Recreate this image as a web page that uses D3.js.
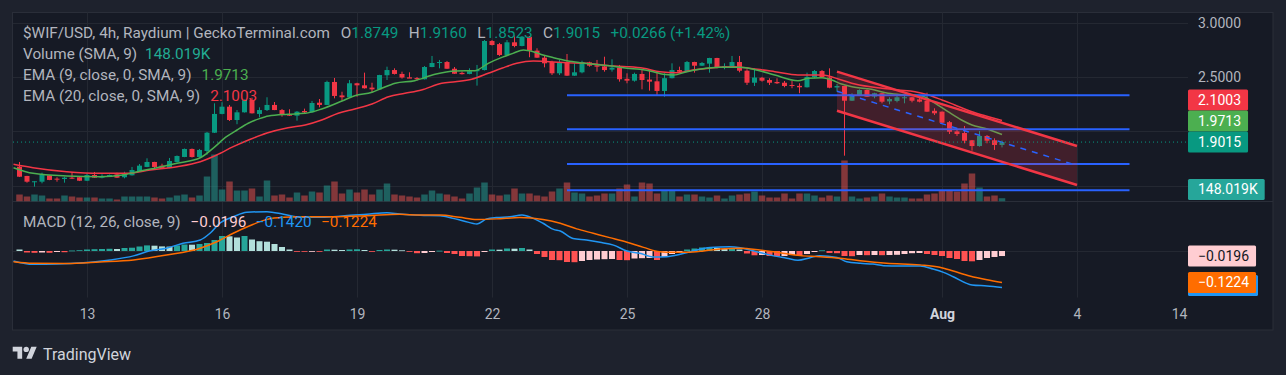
<!DOCTYPE html>
<html><head><meta charset="utf-8">
<script src="https://cdn.jsdelivr.net/npm/d3@7"></script>
<style>
html,body{margin:0;padding:0;background:#1e222d;}
svg{display:block;font-family:Roboto,"Noto Sans",sans-serif;}
</style></head><body>
<svg id="c" width="1286" height="375"></svg>
<script>
// ---------------- DATA ----------------
const title = "$WIF/USD, 4h, Raydium | GeckoTerminal.com";
const tickLabels = ["13","16","19","22","25","28","Aug","4","14"];
const tickIndex  = [9,27,45,63,81,99,123,141,154.6];
const priceTicks = [1.5,2.0,2.5,3.0];
const macdTicks = [0];

const open  = [1.674,1.589,1.533,1.536,1.595,1.564,1.561,1.573,1.577,1.545,
 1.598,1.573,1.582,1.604,1.577,1.595,1.635,1.672,1.718,1.684,
 1.662,1.718,1.764,1.838,1.764,1.819,1.988,2.161,2.228,2.105,
 2.176,2.290,2.161,2.197,2.244,2.197,2.156,2.145,2.188,2.176,
 2.265,2.244,2.456,2.332,2.315,2.444,2.425,2.404,2.388,2.518,
 2.566,2.530,2.499,2.492,2.481,2.594,2.631,2.640,2.578,2.540,
 2.530,2.555,2.566,2.834,2.805,2.705,2.822,2.788,2.874,2.745,
 2.680,2.640,2.536,2.640,2.514,2.545,2.637,2.610,2.600,2.570,
 2.588,2.485,2.468,2.530,2.478,2.462,2.373,2.491,2.566,2.553,
 2.640,2.606,2.625,2.677,2.585,2.600,2.640,2.560,2.449,2.495,
 2.474,2.456,2.449,2.428,2.420,2.407,2.500,2.557,2.497,2.405,
 2.419,2.283,2.336,2.382,2.322,2.352,2.277,2.281,2.310,2.315,
 2.295,2.283,2.190,2.182,2.085,2.000,1.985,1.918,1.865,1.958,
 1.918,1.8749];
const high  = [1.718,1.590,1.541,1.619,1.598,1.577,1.582,1.623,1.579,1.614,
 1.626,1.604,1.602,1.619,1.628,1.672,1.699,1.752,1.720,1.702,
 1.755,1.778,1.842,1.842,1.838,1.995,2.259,2.269,2.244,2.197,
 2.294,2.311,2.222,2.315,2.271,2.207,2.204,2.188,2.210,2.281,
 2.299,2.468,2.493,2.366,2.474,2.449,2.542,2.449,2.522,2.597,
 2.582,2.551,2.545,2.502,2.603,2.696,2.659,2.650,2.594,2.553,
 2.582,2.613,2.843,2.843,2.816,2.843,2.889,2.880,2.876,2.767,
 2.696,2.652,2.659,2.714,2.628,2.652,2.643,2.659,2.689,2.665,
 2.613,2.536,2.542,2.566,2.573,2.542,2.536,2.628,2.597,2.650,
 2.643,2.640,2.679,2.679,2.628,2.696,2.696,2.573,2.582,2.503,
 2.490,2.490,2.465,2.465,2.444,2.542,2.566,2.566,2.582,2.437,
 2.421,2.352,2.388,2.388,2.357,2.357,2.315,2.329,2.336,2.320,
 2.336,2.357,2.213,2.184,2.096,2.019,2.050,1.921,2.004,1.967,
 1.936,1.9160];
const low   = [1.579,1.527,1.490,1.521,1.550,1.536,1.527,1.562,1.542,1.542,
 1.570,1.567,1.579,1.570,1.567,1.593,1.633,1.670,1.650,1.660,
 1.660,1.715,1.762,1.759,1.759,1.785,1.985,2.158,2.096,2.066,
 2.174,2.165,2.130,2.188,2.196,2.136,2.142,2.099,2.161,2.172,
 2.222,2.242,2.305,2.283,2.312,2.320,2.395,2.357,2.386,2.474,
 2.525,2.487,2.493,2.468,2.479,2.592,2.582,2.576,2.530,2.525,
 2.527,2.422,2.562,2.792,2.696,2.696,2.776,2.785,2.684,2.678,
 2.591,2.520,2.520,2.512,2.512,2.536,2.597,2.551,2.551,2.551,
 2.459,2.444,2.459,2.388,2.376,2.336,2.320,2.489,2.542,2.550,
 2.542,2.603,2.542,2.582,2.573,2.591,2.545,2.428,2.419,2.459,
 2.428,2.437,2.407,2.398,2.352,2.405,2.491,2.491,2.398,2.366,
 1.776,2.281,2.329,2.318,2.305,2.259,2.250,2.268,2.259,2.268,
 2.268,2.180,2.151,2.075,1.976,1.958,1.890,1.822,1.859,1.890,
 1.829,1.8523];
const close = [1.582,1.536,1.540,1.604,1.552,1.555,1.573,1.564,1.545,1.598,
 1.573,1.589,1.598,1.573,1.604,1.644,1.684,1.718,1.672,1.662,
 1.727,1.773,1.838,1.764,1.829,1.988,2.161,2.228,2.105,2.176,
 2.290,2.167,2.197,2.244,2.197,2.151,2.145,2.182,2.176,2.262,
 2.244,2.456,2.327,2.315,2.444,2.425,2.398,2.388,2.520,2.566,
 2.530,2.497,2.487,2.481,2.594,2.631,2.640,2.578,2.532,2.528,
 2.555,2.566,2.834,2.797,2.705,2.822,2.788,2.874,2.745,2.680,
 2.628,2.536,2.637,2.514,2.545,2.640,2.606,2.597,2.566,2.588,
 2.481,2.468,2.530,2.474,2.459,2.373,2.491,2.566,2.551,2.640,
 2.606,2.631,2.677,2.588,2.603,2.640,2.560,2.449,2.497,2.468,
 2.449,2.444,2.419,2.419,2.407,2.503,2.557,2.497,2.403,2.419,
 2.283,2.336,2.382,2.320,2.352,2.274,2.299,2.315,2.315,2.283,
 2.274,2.182,2.167,2.080,1.997,1.976,1.914,1.865,1.958,1.914,
 1.8749,1.9015];
// volume in thousands
const volume = [315,225,315,270,135,135,270,225,180,180,
 180,135,135,90,225,225,225,225,180,135,
 180,270,315,180,270,1125,2115,540,900,495,
 495,585,225,945,270,315,180,405,270,450,
 405,720,900,360,540,405,540,315,540,810,
 315,270,225,180,315,495,360,315,225,135,
 360,630,855,315,270,315,585,360,360,270,
 225,450,585,855,405,360,225,270,360,360,
 585,765,225,855,810,360,495,495,225,315,
 315,225,180,270,135,270,315,360,450,270,
 180,180,360,135,360,360,270,180,270,225,
 1845,225,135,180,225,360,225,180,180,135,
 135,315,360,495,495,450,810,1260,630,225,
 270,148.019];
// EMA lines: [bar index, value]
const ema9 = [[-0.8,1.665],[1.8,1.613],[6.3,1.589],[10.7,1.582],[13.8,1.598],[16.1,1.635],[18.3,1.665],[21.0,1.706],[24.1,1.757],[25.8,1.844],[27.6,1.951],[29.0,2.013],[30.5,2.075],[32.0,2.118],[33.2,2.142],[35.8,2.158],[38.1,2.167],[40.3,2.207],[43.0,2.280],[44.7,2.329],[47.0,2.361],[48.3,2.398],[50.1,2.444],[52.7,2.468],[55.4,2.527],[58.1,2.557],[60.7,2.560],[62.5,2.628],[64.4,2.685],[65.8,2.720],[67.2,2.751],[68.5,2.735],[69.8,2.705],[71.2,2.680],[73.0,2.652],[74.7,2.634],[76.5,2.619],[78.7,2.606],[81.0,2.582],[82.7,2.573],[84.5,2.551],[85.8,2.527],[87.2,2.520],[89.0,2.551],[90.7,2.573],[93.4,2.591],[96.1,2.591],[98.4,2.564],[100.7,2.520],[103.8,2.468],[105.2,2.490],[107.0,2.495],[108.3,2.474],[109.6,2.437],[111.0,2.412],[113.6,2.388],[115.8,2.351],[118.1,2.336],[120.3,2.327],[122.1,2.259],[123.8,2.182],[125.6,2.105],[127.0,2.059],[128.7,2.029],[131,1.9713]];
const ema20 = [[-0.8,1.697],[1.8,1.665],[6.3,1.628],[10.7,1.613],[14.3,1.613],[17.4,1.644],[21.0,1.674],[24.1,1.720],[26.3,1.782],[28.5,1.859],[30.7,1.925],[33.0,1.985],[35.8,2.034],[38.1,2.059],[40.3,2.105],[42.5,2.167],[44.7,2.207],[47.0,2.253],[49.2,2.320],[51.4,2.351],[53.6,2.382],[56.3,2.444],[58.1,2.458],[60.3,2.481],[62.5,2.536],[64.4,2.585],[66.3,2.628],[68.5,2.649],[70.7,2.643],[73.0,2.634],[75.6,2.628],[78.7,2.606],[81.0,2.597],[83.2,2.582],[85.4,2.551],[87.6,2.542],[89.8,2.566],[92.5,2.588],[95.2,2.597],[98.4,2.573],[100.7,2.551],[103.8,2.520],[107.0,2.520],[109.6,2.474],[111.4,2.437],[115.0,2.398],[117.2,2.382],[119.4,2.366],[121.2,2.336],[123.0,2.290],[124.7,2.244],[127.0,2.182],[129.2,2.136],[131,2.1003]];
// MACD
const macdLine = [[-0.8,-0.039],[1.8,-0.052],[5.0,-0.051],[8.5,-0.046],[12.1,-0.035],[15.2,-0.019],[17.4,0.001],[19.6,0.011],[21.8,0.030],[24.1,0.043],[25.4,0.069],[26.7,0.108],[28.5,0.133],[30.3,0.151],[33.0,0.153],[35.2,0.143],[37.4,0.131],[39.6,0.131],[41.8,0.133],[44.1,0.139],[46.3,0.143],[49.0,0.149],[50.7,0.144],[53.4,0.139],[56.1,0.137],[57.8,0.127],[59.2,0.117],[61.0,0.105],[62.3,0.125],[63.6,0.130],[65.4,0.133],[67.0,0.140],[68.5,0.127],[69.8,0.108],[71.2,0.084],[72.1,0.078],[73.8,0.049],[75.6,0.043],[77.4,0.034],[79.2,0.023],[81.0,0.000],[82.7,-0.009],[84.5,-0.023],[86.3,-0.022],[88.1,-0.013],[89.8,0.000],[92.1,0.014],[94.7,0.017],[96.1,0.013],[97.8,0.001],[100.1,-0.016],[102.3,-0.028],[103.8,-0.036],[105.4,-0.026],[106.7,-0.018],[109.0,-0.025],[110.3,-0.042],[112.1,-0.048],[113.8,-0.051],[115.2,-0.057],[117.4,-0.058],[120.1,-0.058],[121.8,-0.070],[123.2,-0.083],[124.5,-0.100],[127.0,-0.132],[129.0,-0.136],[131,-0.1420]];
const signalLine = [[-0.8,-0.042],[1.8,-0.048],[6.3,-0.049],[10.7,-0.043],[15.2,-0.035],[19.6,-0.016],[24.1,0.011],[26.3,0.036],[28.5,0.069],[30.7,0.098],[33.0,0.123],[35.2,0.131],[37.4,0.133],[41.8,0.133],[46.3,0.137],[50.7,0.143],[53.4,0.140],[56.1,0.140],[58.7,0.131],[61.0,0.123],[63.6,0.125],[66.7,0.130],[69.8,0.123],[72.1,0.108],[74.3,0.086],[76.5,0.069],[78.7,0.052],[81.0,0.034],[83.2,0.014],[85.4,-0.003],[87.2,-0.005],[89.0,-0.005],[91.2,0.000],[93.4,0.008],[96.1,0.011],[98.7,0.004],[101.4,-0.007],[104.1,-0.018],[106.7,-0.022],[109.4,-0.028],[112.1,-0.038],[115.6,-0.048],[120.1,-0.054],[122.7,-0.063],[124.5,-0.078],[126.7,-0.097],[129.0,-0.112],[131,-0.1224]];
const histogram = [0.0058,-0.0058,-0.0070,-0.0058,-0.0070,-0.0039,-0.0047,0.0019,0.0031,0.0058,
 0.0070,0.0078,0.0086,0.0078,0.0117,0.0128,0.0175,0.0218,0.0206,0.0179,
 0.0171,0.0214,0.0253,0.0245,0.0272,0.0311,0.0428,0.0584,0.0572,0.0525,
 0.0584,0.0447,0.0381,0.0362,0.0272,0.0156,0.0058,-0.0023,-0.0031,-0.0023,
 -0.0031,0.0058,0.0051,0.0039,0.0058,0.0066,0.0039,-0.0012,0.0039,0.0058,
 0.0051,0.0027,-0.0027,-0.0086,-0.0078,-0.0039,0.0012,-0.0078,-0.0117,-0.0195,
 -0.0202,-0.0210,-0.0039,0.0058,0.0051,0.0097,0.0089,0.0117,0.0058,-0.0117,
 -0.0233,-0.0350,-0.0358,-0.0428,-0.0436,-0.0389,-0.0350,-0.0331,-0.0319,-0.0311,
 -0.0350,-0.0358,-0.0292,-0.0280,-0.0272,-0.0350,-0.0233,-0.0117,-0.0058,0.0058,
 0.0097,0.0136,0.0144,0.0117,0.0078,0.0097,0.0058,-0.0097,-0.0167,-0.0156,
 -0.0195,-0.0202,-0.0195,-0.0156,-0.0195,-0.0117,-0.0039,0.0027,-0.0078,-0.0086,
 -0.0195,-0.0202,-0.0156,-0.0163,-0.0156,-0.0163,-0.0156,-0.0148,-0.0117,-0.0086,
 -0.0078,-0.0117,-0.0156,-0.0195,-0.0272,-0.0311,-0.0389,-0.0401,-0.0350,-0.0272,
 -0.0233,-0.0196];
// drawings
const levelPrices = [2.333,2.019,1.699,1.458];
const levelSpan = [73,148];
const channelSpan = [109,141];
const channelUpper = [2.551,1.865];
const channelLower = [2.191,1.506];

// ---------------- LAYOUT ----------------
const L=13, R=1188, T=12.5, PB=201.5, MB=297.5, PR=1273, PBOT=330;
const UP='#089981', DN='#f23645', GRAY='#b2b5be', GRID='#242832';
const svg=d3.select('#c');
const x=d3.scaleLinear().domain([0,131]).range([19.5,1002]);
const y=d3.scaleLinear().domain([1.5,3]).range([185.6,23]);
const vy=d3.scaleLinear().domain([0,2250]).range([PB,PB-50]);
const my=d3.scaleLinear().domain([-0.2,0.2]).range([251+51.4,251-51.4]);

svg.append('rect').attr('x',12.5).attr('y',12.5).attr('width',PR-12.5).attr('height',PBOT-12.5)
  .attr('fill','#161a25').attr('stroke','#2a2e39');
const defs=svg.append('defs');
defs.append('clipPath').attr('id','cp').append('rect').attr('x',L).attr('y',T+0.5).attr('width',R-L).attr('height',PB-T-0.5);
defs.append('clipPath').attr('id','cm').append('rect').attr('x',L).attr('y',PB+0.5).attr('width',R-L).attr('height',MB-PB-0.5);

// grid
const grid=svg.append('g');
tickIndex.slice(0,8).forEach(t=>grid.append('line').attr('x1',Math.round(x(t))+0.5).attr('x2',Math.round(x(t))+0.5).attr('y1',T).attr('y2',MB).attr('stroke',GRID));
priceTicks.forEach(p=>grid.append('line').attr('x1',L).attr('x2',R).attr('y1',Math.round(y(p))+0.5).attr('y2',Math.round(y(p))+0.5).attr('stroke',GRID));
macdTicks.forEach(p=>grid.append('line').attr('x1',L).attr('x2',R).attr('y1',Math.round(my(p))+0.5).attr('y2',Math.round(my(p))+0.5).attr('stroke',GRID));
svg.append('line').attr('x1',12.5).attr('x2',PR).attr('y1',PB).attr('y2',PB).attr('stroke','#2a2e39').attr('stroke-width',1.2);

// price pane
const pg=svg.append('g').attr('clip-path','url(#cp)');
const bars=d3.range(close.length);
const isUp=i=>close[i]>=open[i];
pg.selectAll('.vol').data(bars).join('rect')
  .attr('x',i=>x(i)-3.25).attr('width',6.5)
  .attr('y',i=>vy(volume[i])).attr('height',i=>PB-vy(volume[i]))
  .attr('fill',i=>isUp(i)?'rgba(38,166,154,0.5)':'rgba(239,83,80,0.5)');
pg.selectAll('.wick').data(bars).join('line')
  .attr('x1',i=>x(i)).attr('x2',i=>x(i)).attr('y1',i=>y(high[i])).attr('y2',i=>y(low[i]))
  .attr('stroke',i=>isUp(i)?UP:DN).attr('stroke-width',1);
pg.selectAll('.body').data(bars).join('rect')
  .attr('x',i=>x(i)-2.5).attr('width',5)
  .attr('y',i=>y(Math.max(open[i],close[i])))
  .attr('height',i=>Math.max(1,Math.abs(y(open[i])-y(close[i]))))
  .attr('fill',i=>isUp(i)?UP:DN);
const pl=d3.line().x(d=>x(d[0])).y(d=>y(d[1])).curve(d3.curveMonotoneX);
pg.append('path').attr('d',pl(ema20)).attr('fill','none').attr('stroke','#f23645').attr('stroke-width',1.5);
pg.append('path').attr('d',pl(ema9)).attr('fill','none').attr('stroke','#4caf50').attr('stroke-width',1.5);
// levels
levelPrices.forEach(p=>pg.append('line').attr('x1',x(levelSpan[0])).attr('x2',x(levelSpan[1]))
  .attr('y1',y(p)).attr('y2',y(p)).attr('stroke','#2962ff').attr('stroke-width',2));
// channel
const cx0=x(channelSpan[0]), cx1=x(channelSpan[1]);
pg.append('path').attr('d',`M${cx0},${y(channelUpper[0])}L${cx1},${y(channelUpper[1])}L${cx1},${y(channelLower[1])}L${cx0},${y(channelLower[0])}Z`)
  .attr('fill','rgba(242,54,69,0.2)');
pg.append('line').attr('x1',cx0).attr('x2',cx1).attr('y1',y((channelUpper[0]+channelLower[0])/2)).attr('y2',y((channelUpper[1]+channelLower[1])/2))
  .attr('stroke','#2962ff').attr('stroke-width',1.5).attr('stroke-dasharray','6,6');
[channelUpper,channelLower].forEach(c=>pg.append('line').attr('x1',cx0).attr('x2',cx1).attr('y1',y(c[0])).attr('y2',y(c[1]))
  .attr('stroke','#f23645').attr('stroke-width',2.5));
// last price line
const last=close.length-1;
pg.append('line').attr('x1',L).attr('x2',R).attr('y1',y(close[last])).attr('y2',y(close[last]))
  .attr('stroke',UP).attr('stroke-dasharray','1,3');

// macd pane
const mg=svg.append('g').attr('clip-path','url(#cm)');
const hcol=(i)=>{const v=histogram[i], p=i>0?histogram[i-1]:Infinity;
  return v>=0?(v>p?'#26a69a':'#b2dfdb'):(v>p?'#ffcdd2':'#ff5252');};
mg.selectAll('.h').data(bars).join('rect')
  .attr('x',i=>x(i)-3).attr('width',6)
  .attr('y',i=>Math.min(my(0),my(histogram[i]))).attr('height',i=>Math.max(0.8,Math.abs(my(histogram[i])-my(0))))
  .attr('fill',hcol);
const ml=d3.line().x(d=>x(d[0])).y(d=>my(d[1])).curve(d3.curveMonotoneX);
mg.append('path').attr('d',ml(macdLine)).attr('fill','none').attr('stroke','#2196f3').attr('stroke-width',1.5);
mg.append('path').attr('d',ml(signalLine)).attr('fill','none').attr('stroke','#ff6d00').attr('stroke-width',1.5);

// right-side tags (computed first so covered tick labels can be skipped)
const fmt4=v=>(v<0?'\u2212':'')+Math.abs(v).toFixed(4);
const ema9Last=ema9[ema9.length-1][1], ema20Last=ema20[ema20.length-1][1];
const macdLast=macdLine[macdLine.length-1][1], sigLast=signalLine[signalLine.length-1][1], hLast=histogram[last];
const priceTags=[{v:close[last],bg:UP},{v:ema9Last,bg:'#4caf50'},{v:ema20Last,bg:'#f23645'}]
  .sort((a,b)=>y(b.v)-y(a.v));
let prevC=Infinity;
priceTags.forEach(d=>{const c=Math.min(y(d.v),prevC-21); d.c=c; prevC=c;});
const volTagC=Math.min(vy(volume[last]),PB-12);
const tagCenters=priceTags.map(d=>d.c).concat([volTagC,my(hLast)]);
const covered=yy=>tagCenters.some(c=>Math.abs(c-yy)<12);

// axes
const ax=svg.append('g').attr('transform',`translate(${R},0)`)
  .call(d3.axisRight(y).tickValues(priceTicks.filter(p=>!covered(y(p)))).tickFormat(d3.format('.4f')).tickSize(0).tickPadding(10));
const ax2=svg.append('g').attr('transform',`translate(${R},0)`)
  .call(d3.axisRight(my).tickValues(macdTicks.filter(p=>!covered(my(p)))).tickFormat(d3.format('.4f')).tickSize(0).tickPadding(10));
const bx=svg.append('g').attr('transform',`translate(0,${MB})`)
  .call(d3.axisBottom(x).tickValues(tickIndex).tickFormat((d,i)=>tickLabels[i]).tickSize(0).tickPadding(11.5));
[ax,ax2,bx].forEach(a=>{a.select('.domain').remove();
  a.selectAll('text').attr('fill',GRAY).style('font-size','14px').style('font-family','Roboto,sans-serif');});
bx.selectAll('text').filter((d,i)=>tickLabels[i]==='Aug').attr('fill','#d1d4dc').style('font-weight','bold');

function tag(yc,txt,bg,fg,showText=true){
  const g=svg.append('g');
  const r=g.append('rect').attr('x',R).attr('y',yc-10.5).attr('height',21).attr('fill',bg).attr('rx',1.5);
  if(!showText){r.attr('width',70);return;}
  const t=g.append('text').attr('x',R+10).attr('y',yc).attr('dy','0.35em').attr('fill',fg)
    .style('font-size','14px').text(txt);
  r.attr('width',10+t.node().getComputedTextLength()+7);
}
priceTags.slice().reverse().forEach(d=>tag(d.c,fmt4(d.v),d.bg,'#ffffff'));
tag(volTagC,volume[last].toFixed(3)+'K','#26a69a','#ffffff');
tag(my(hLast),fmt4(hLast),hcol(last),'#131722');
// MACD tag sits beneath the signal tag (only its edge shows)
tag(Math.min(my(macdLast),MB-12),fmt4(macdLast),'#2196f3','#ffffff',false);
tag(Math.min(my(sigLast),MB-12),fmt4(sigLast),'#ff6d00','#ffffff');

// legends
const lg=svg.append('g').style('font-size','15.3px');
function legendLine(yc,parts){let cx=23;parts.forEach(p=>{cx+=p.gap||0;
  const t=lg.append('text').attr('x',cx).attr('y',yc).attr('dy','0.35em').attr('fill',p.color).text(p.text);
  cx+=t.node().getComputedTextLength();});}
const lc=isUp(last)?UP:DN;
const chg=close[last]-open[last], pct=chg/open[last]*100;
legendLine(33,[{text:title,color:GRAY},{text:'O',gap:11,color:GRAY},{text:open[last].toFixed(4),color:lc},
  {text:'H',gap:10.5,color:GRAY},{text:high[last].toFixed(4),color:lc},
  {text:'L',gap:10.5,color:GRAY},{text:low[last].toFixed(4),color:lc},
  {text:'C',gap:10.5,color:GRAY},{text:close[last].toFixed(4),color:lc},
  {text:(chg>=0?'+':'')+chg.toFixed(4)+' ('+(pct>=0?'+':'')+pct.toFixed(2)+'%)',gap:10.5,color:lc}]);
legendLine(54,[{text:'Volume (SMA, 9)',color:GRAY},{text:volume[last].toFixed(3)+'K',gap:8,color:'#22ab94'}]);
legendLine(75,[{text:'EMA (9, close, 0, SMA, 9)',color:GRAY},{text:ema9Last.toFixed(4),gap:10,color:'#4caf50'}]);
legendLine(96,[{text:'EMA (20, close, 0, SMA, 9)',color:GRAY},{text:ema20Last.toFixed(4),gap:10,color:'#f23645'}]);
legendLine(222,[{text:'MACD (12, 26, close, 9)',color:GRAY},{text:fmt4(hLast),gap:10,color:hcol(last)},
  {text:fmt4(macdLast),gap:9.5,color:'#2196f3'},{text:fmt4(sigLast),gap:9.5,color:'#ff6d00'}]);

// TradingView logo
const logo=svg.append('g').attr('transform','translate(12.7,344) scale(0.676)').attr('fill','#d1d4dc');
logo.append('path').attr('d','M14 22H7V11H0V4h14v18zM28 22h-8l7.5-18h8L28 22z');
logo.append('circle').attr('cx',20).attr('cy',8).attr('r',4);
svg.append('text').attr('x',43).attr('y',354).attr('dy','0.35em').attr('fill','#d1d4dc')
  .style('font-size','16px').text('TradingView');
</script>
</body></html>
